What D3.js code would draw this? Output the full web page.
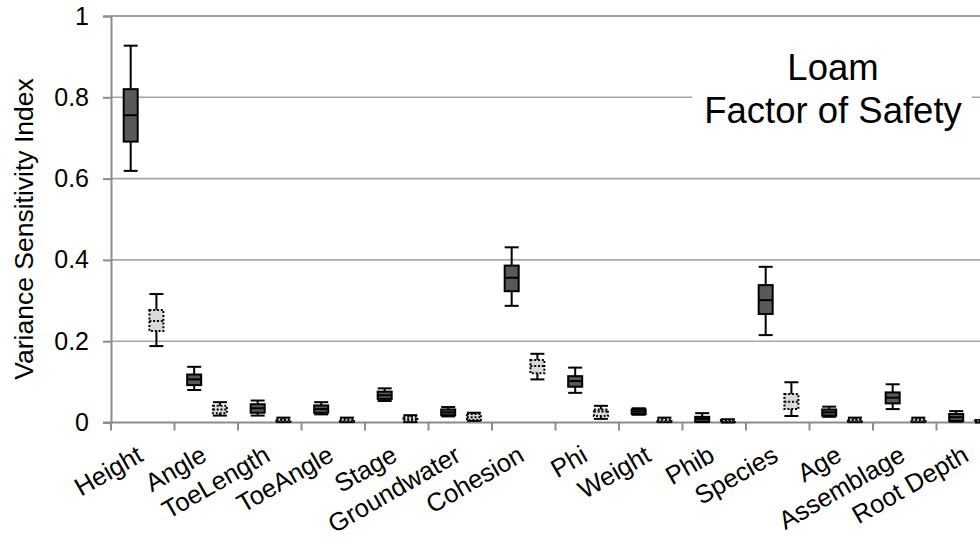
<!DOCTYPE html>
<html>
<head>
<meta charset="utf-8">
<script src="https://cdn.jsdelivr.net/npm/d3@7"></script>
<style>
  body { margin: 0; background: #fff; }
  svg { display: block; font-family: "Liberation Sans", Arial, sans-serif; }
</style>
</head>
<body>
<div id="chart"></div>
<script>
// categories along the x axis
var categories = ["Height", "Angle", "ToeLength", "ToeAngle", "Stage", "Groundwater", "Cohesion",
                  "Phi", "Weight", "Phib", "Species", "Age", "Assemblage", "Root Depth"];

// first series (dark solid boxes): whisker low, Q1, median, Q3, whisker high
var darkLow  = [0.619, 0.080, 0.017, 0.020, 0.053, 0.015, 0.287, 0.073, 0.019, 0.001, 0.215, 0.014, 0.033, 0.002];
var darkQ1   = [0.691, 0.092, 0.024, 0.024, 0.058, 0.018, 0.323, 0.088, 0.021, 0.002, 0.267, 0.017, 0.047, 0.004];
var darkMed  = [0.756, 0.106, 0.035, 0.033, 0.067, 0.025, 0.356, 0.102, 0.027, 0.009, 0.301, 0.025, 0.061, 0.013];
var darkQ3   = [0.820, 0.118, 0.045, 0.042, 0.076, 0.032, 0.386, 0.114, 0.032, 0.014, 0.338, 0.032, 0.074, 0.021];
var darkHigh = [0.927, 0.137, 0.054, 0.050, 0.084, 0.038, 0.431, 0.135, 0.035, 0.023, 0.383, 0.039, 0.094, 0.028];

// second series (light dotted boxes)
var lightLow  = [0.188, 0.017, 0.001, 0.001, 0.001, 0.004, 0.106, 0.009, 0.001, 0.000, 0.016, 0.001, 0.001, 0.000];
var lightQ1   = [0.225, 0.023, 0.002, 0.002, 0.003, 0.006, 0.121, 0.016, 0.002, 0.001, 0.033, 0.002, 0.002, 0.001];
var lightMed  = [0.250, 0.032, 0.005, 0.005, 0.008, 0.013, 0.139, 0.027, 0.005, 0.003, 0.051, 0.005, 0.005, 0.003];
var lightQ3   = [0.277, 0.041, 0.008, 0.009, 0.014, 0.021, 0.154, 0.032, 0.009, 0.006, 0.070, 0.008, 0.009, 0.005];
var lightHigh = [0.316, 0.050, 0.012, 0.012, 0.018, 0.024, 0.169, 0.041, 0.012, 0.008, 0.099, 0.012, 0.012, 0.006];

var yTicks = [0, 0.2, 0.4, 0.6, 0.8, 1];
var yTitle = "Variance Sensitivity Index";
var titleLines = ["Loam", "Factor of Safety"];

var width = 980, height = 542;
var plotLeft = 111, plotTop = 16, plotBottom = 422.5, bandW = 63.5;

var svg = d3.select("#chart").append("svg")
    .attr("width", width)
    .attr("height", height);

var x = d3.scaleBand()
    .domain(categories)
    .range([plotLeft, plotLeft + categories.length * bandW])
    .padding(0);

var y = d3.scaleLinear()
    .domain([0, 1])
    .range([plotBottom, plotTop]);

// gridlines
svg.append("g").attr("class", "grid")
  .selectAll("line")
  .data(yTicks.filter(function(d){ return d > 0; }))
  .enter().append("line")
    .attr("x1", plotLeft).attr("x2", width)
    .attr("y1", function(d){ return y(d); })
    .attr("y2", function(d){ return y(d); })
    .attr("stroke", function(d){ return d === 1 ? "#808080" : "#a6a6a6"; })
    .attr("stroke-width", 1.6);

// y axis
var yAxis = d3.axisLeft(y).tickValues(yTicks).tickSize(8).tickPadding(14)
    .tickFormat(function(d){ return String(+d.toFixed(1)); });
var gy = svg.append("g").attr("transform", "translate(" + plotLeft + ",0)").call(yAxis);
gy.select(".domain").attr("stroke", "#8c8c8c").attr("stroke-width", 2);
gy.selectAll(".tick line").attr("stroke", "#8c8c8c").attr("stroke-width", 2);
gy.selectAll(".tick text").attr("font-size", 25).attr("fill", "#000")
    .attr("font-family", "Liberation Sans, Arial, sans-serif");

// x axis: ticks between categories
var tickX = categories.map(function(c){ return x(c); });
var gx = svg.append("g");
gx.append("line")
    .attr("x1", plotLeft - 8).attr("x2", width)
    .attr("y1", plotBottom).attr("y2", plotBottom)
    .attr("stroke", "#8c8c8c").attr("stroke-width", 2);
gx.selectAll(".xt").data(tickX).enter().append("line")
    .attr("class", "xt")
    .attr("x1", function(d){ return d; }).attr("x2", function(d){ return d; })
    .attr("y1", plotBottom).attr("y2", plotBottom + 8)
    .attr("stroke", "#8c8c8c").attr("stroke-width", 2);

gx.selectAll(".xl").data(categories).enter().append("text")
    .attr("class", "xl")
    .attr("transform", function(d){
      var cx = x(d) + x.bandwidth() / 2 + 2;
      return "translate(" + cx + "," + 460 + ") rotate(-30)";
    })
    .attr("text-anchor", "end")
    .attr("font-size", 25.5)
    .text(function(d){ return d; });

// y title
svg.append("text")
    .attr("transform", "translate(33,229) rotate(-90)")
    .attr("text-anchor", "middle")
    .attr("font-size", 26.5)
    .text(yTitle);

// box plots
function drawBoxes(cls, offset, low, q1, med, q3, high, fill, dashed) {
  var boxW = 14, capW = 14, sw = 2;
  var g = svg.append("g").attr("class", cls);
  var items = g.selectAll("g").data(categories).enter().append("g")
      .attr("transform", function(d){ return "translate(" + (x(d) + x.bandwidth() * offset) + ",0)"; });
  var dash = dashed ? "2,1.8" : null;
  // whiskers
  items.append("line")
      .attr("x1", 0).attr("x2", 0)
      .attr("y1", function(d, i){ return y(high[i]); })
      .attr("y2", function(d, i){ return y(low[i]); })
      .attr("stroke", "#000").attr("stroke-width", sw);
  items.append("line")
      .attr("x1", -capW / 2).attr("x2", capW / 2)
      .attr("y1", function(d, i){ return y(high[i]); })
      .attr("y2", function(d, i){ return y(high[i]); })
      .attr("stroke", "#000").attr("stroke-width", sw);
  items.append("line")
      .attr("x1", -capW / 2).attr("x2", capW / 2)
      .attr("y1", function(d, i){ return y(low[i]); })
      .attr("y2", function(d, i){ return y(low[i]); })
      .attr("stroke", "#000").attr("stroke-width", sw);
  // box
  items.append("rect")
      .attr("x", -boxW / 2)
      .attr("width", boxW)
      .attr("y", function(d, i){ return y(q3[i]); })
      .attr("height", function(d, i){ return Math.max(1, y(q1[i]) - y(q3[i])); })
      .attr("fill", fill)
      .attr("stroke", "#000").attr("stroke-width", sw)
      .attr("stroke-dasharray", dash);
  // median
  items.append("line")
      .attr("x1", -boxW / 2).attr("x2", boxW / 2)
      .attr("y1", function(d, i){ return y(med[i]); })
      .attr("y2", function(d, i){ return y(med[i]); })
      .attr("stroke", "#000").attr("stroke-width", sw)
      .attr("stroke-dasharray", dash);
}

drawBoxes("dark", 0.31, darkLow, darkQ1, darkMed, darkQ3, darkHigh, "#595959", false);
drawBoxes("light", 0.715, lightLow, lightQ1, lightMed, lightQ3, lightHigh, "#d9d9d9", true);

// title with white background
svg.append("rect")
    .attr("x", 692).attr("y", 42)
    .attr("width", 280).attr("height", 95)
    .attr("fill", "#fff");
svg.append("text")
    .attr("x", 833).attr("y", 80)
    .attr("text-anchor", "middle")
    .attr("font-size", 36.5)
  .selectAll("tspan").data(titleLines).enter().append("tspan")
    .attr("x", 833)
    .attr("dy", function(d, i){ return i === 0 ? 0 : 43; })
    .text(function(d){ return d; });
</script>
</body>
</html>
